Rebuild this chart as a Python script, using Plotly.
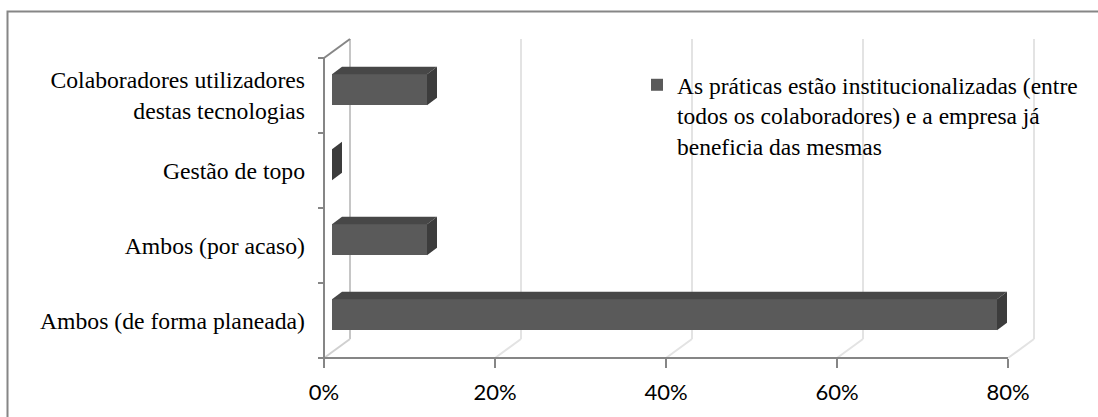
import plotly.graph_objects as go

# ---- data -------------------------------------------------------------
categories = [
    "Ambos (de forma planeada)",
    "Ambos (por acaso)",
    "Gestão de topo",
    "Colaboradores utilizadores<br>destas tecnologias",
]
shares = [7 / 9 * 100, 1 / 9 * 100, 0.0, 1 / 9 * 100]   # % of respondents
series_name = ("As práticas estão institucionalizadas (entre<br>"
               "todos os colaboradores) e a empresa já<br>"
               "beneficia das mesmas")
x_ticks = [0, 20, 40, 60, 80]
x_tick_labels = ["0%", "20%", "40%", "60%", "80%"]

# ---- geometry (pixels) -------------------------------------------------
W, H = 1098, 417
PX_ZERO = 324          # front-plane x of 0 %
PX_PER_PCT = 8.55      # horizontal scale
PX_FLOOR = 358         # front-plane y of the floor
BAND_PX = 75           # height of one category band
DEPTH_X_PX, DEPTH_Y_PX = 26, 19   # oblique offset of the back wall
BAR_D0, BAR_D1 = 8 / 26, 18 / 26  # bar slab position within the depth
BAR_H_PX = 31

# convert into axis units
dx = DEPTH_X_PX / PX_PER_PCT
dy = DEPTH_Y_PX / BAND_PX
bar_h = BAR_H_PX / BAND_PX
x_range = [-PX_ZERO / PX_PER_PCT, (W - PX_ZERO) / PX_PER_PCT]
y_range = [(PX_FLOOR - H) / BAND_PX - 0.5, PX_FLOOR / BAND_PX - 0.5]
n = len(categories)
y_bottom, y_top = -0.5, n - 0.5

FRONT, TOP, SIDE = "#5a5a5a", "#474747", "#3c3c3c"
AXIS_GREY = "#868686"
GRID_GREY = "#e3e3e3"
SERIF = "Liberation Serif"
SANS = "Lato"

fig = go.Figure()

# front faces of the slabs
ox, oy = BAR_D0 * dx, BAR_D0 * dy
fig.add_trace(go.Bar(
    orientation="h",
    x=shares,
    y=[k + oy for k in range(n)],
    base=ox,
    width=bar_h,
    marker=dict(color=FRONT, line=dict(width=0)),
    name=series_name,
    showlegend=True,
    hoverinfo="skip",
))

# top and right-hand faces
sdx, sdy = (BAR_D1 - BAR_D0) * dx, (BAR_D1 - BAR_D0) * dy
for k, v in enumerate(shares):
    x0, x1 = ox, ox + v
    yb, yt = k + oy - bar_h / 2, k + oy + bar_h / 2
    fig.add_trace(go.Scatter(
        x=[x0, x1, x1 + sdx, x0 + sdx, x0],
        y=[yt, yt, yt + sdy, yt + sdy, yt],
        fill="toself", fillcolor=TOP, mode="lines", line=dict(width=0),
        showlegend=False, hoverinfo="skip"))
    fig.add_trace(go.Scatter(
        x=[x1, x1, x1 + sdx, x1 + sdx, x1],
        y=[yb, yt, yt + sdy, yb + sdy, yb],
        fill="toself", fillcolor=SIDE, mode="lines", line=dict(width=0),
        showlegend=False, hoverinfo="skip"))

# walls, floor and axis lines (kept underneath the slabs)
shapes = []
for t in x_ticks:
    col = "#c6c6c6" if t == 0 else GRID_GREY
    shapes.append(dict(type="line", xref="x", yref="y", layer="below",
                       x0=t + dx, y0=y_bottom + dy, x1=t + dx, y1=y_top + dy,
                       line=dict(color=col, width=2)))
    shapes.append(dict(type="line", xref="x", yref="y", layer="below",
                       x0=t, y0=y_bottom, x1=t + dx, y1=y_bottom + dy,
                       line=dict(color=GRID_GREY if t else "#d0d0d0", width=2)))
# front floor edge
shapes.append(dict(type="line", xref="x", yref="y", layer="below",
                   x0=x_ticks[0], y0=y_bottom, x1=x_ticks[-1], y1=y_bottom,
                   line=dict(color=AXIS_GREY, width=2)))
# front left edge and its top diagonal
shapes.append(dict(type="line", xref="x", yref="y", layer="below",
                   x0=0, y0=y_bottom, x1=0, y1=y_top,
                   line=dict(color=AXIS_GREY, width=2)))
shapes.append(dict(type="line", xref="x", yref="y", layer="below",
                   x0=0, y0=y_top, x1=dx, y1=y_top + dy,
                   line=dict(color=AXIS_GREY, width=2)))
# chart frame
shapes.append(dict(type="rect", xref="paper", yref="paper", layer="below",
                   x0=7.5 / W, x1=1.05, y0=-0.05, y1=1 - 11.5 / H,
                   line=dict(color=AXIS_GREY, width=2)))

fig.update_layout(
    width=W, height=H,
    margin=dict(l=0, r=0, t=0, b=0),
    paper_bgcolor="white", plot_bgcolor="white",
    shapes=shapes,
    bargap=0,
    font=dict(family=SERIF, color="black"),
    xaxis=dict(
        range=x_range, anchor="free", position=(H - PX_FLOOR) / H,
        tickmode="array", tickvals=x_ticks, ticktext=x_tick_labels,
        ticks="outside", ticklen=9, tickwidth=2, tickcolor=AXIS_GREY,
        ticklabelstandoff=6,
        showgrid=False, zeroline=False, showline=False,
        tickfont=dict(family=SANS, size=22, color="black"),
        fixedrange=True,
    ),
    yaxis=dict(
        range=y_range, anchor="free", position=PX_ZERO / W,
        tickmode="array", tickvals=list(range(n)), ticktext=categories,
        ticks="", ticklabelstandoff=19,
        minor=dict(tickmode="array", tickvals=[k - 0.5 for k in range(n + 1)],
                   ticks="outside", ticklen=6, tickwidth=2, tickcolor=AXIS_GREY,
                   showgrid=False),
        showgrid=False, zeroline=False, showline=False,
        tickfont=dict(family=SERIF, size=23.7, color="black"),
        fixedrange=True,
    ),
    legend=dict(
        x=637 / W, y=1 - 63 / H, xanchor="left", yanchor="top",
        valign="top", bgcolor="rgba(0,0,0,0)", borderwidth=0,
        font=dict(family=SERIF, size=23.5, color="black"),
    ),
)

fig.write_html("out.html")
